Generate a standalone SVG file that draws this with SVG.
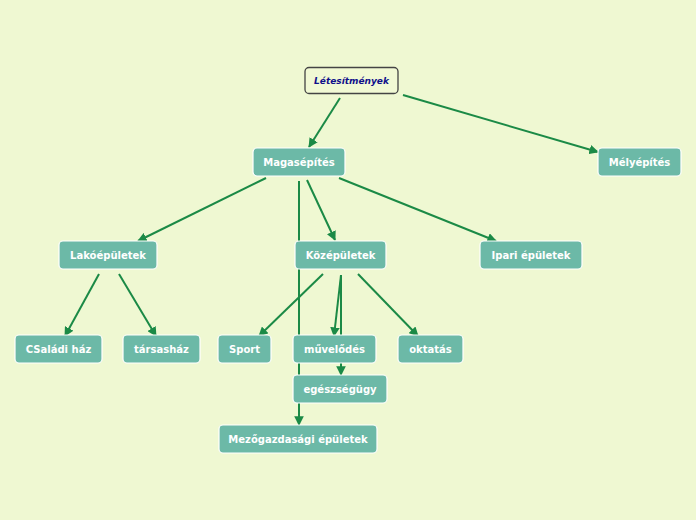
<svg xmlns="http://www.w3.org/2000/svg" width="696" height="520" viewBox="0 0 696 520">
<defs>
<marker id="ah" viewBox="0 0 10 10" refX="9" refY="5" markerWidth="4.8" markerHeight="4.8" orient="auto" markerUnits="strokeWidth">
<path d="M0,0 L10,5 L0,10 z" fill="#1b8a46"/>
</marker>
<style>
.n rect{fill:#6cb9a7;stroke:#ffffff;stroke-width:1.2}
.n text{fill:#ffffff;font-family:"DejaVu Sans",Verdana,sans-serif;font-size:10px;font-weight:bold;text-anchor:middle}
.c line{stroke:#1b8a46;stroke-width:2;marker-end:url(#ah)}
</style>
</defs>
<rect x="0" y="0" width="696" height="520" fill="#eff8d2"/>
<g class="c" id="connectors">
<line x1="340" y1="98" x2="309" y2="147"/>
<line x1="403" y1="95" x2="598" y2="152"/>
<line x1="266" y1="178" x2="138" y2="241"/>
<line x1="307" y1="180" x2="335" y2="240"/>
<line x1="339" y1="178" x2="496" y2="241"/>
<line x1="299" y1="181" x2="299" y2="425"/>
<line x1="99" y1="274" x2="65" y2="336"/>
<line x1="119" y1="274" x2="156" y2="336"/>
<line x1="323" y1="274" x2="259" y2="336"/>
<line x1="341" y1="275" x2="334" y2="336"/>
<line x1="341" y1="275" x2="341" y2="375"/>
<line x1="358" y1="274" x2="418" y2="336"/>
</g>
<g id="letesitmenyek">
<rect x="305" y="67.5" width="93" height="26" rx="4" fill="#f1f9d4" stroke="#444444" stroke-width="1.3"/>
<text x="351.5" y="84" fill="#10108a" font-family="'DejaVu Sans',Verdana,sans-serif" font-size="9" font-weight="bold" font-style="italic" text-anchor="middle">Létesítmények</text>
</g>
<g class="n" id="magasepites"><rect x="253" y="148" width="92" height="28" rx="4"/><text x="299" y="166">Magasépítés</text></g>
<g class="n" id="melyepites"><rect x="598" y="148" width="83" height="28" rx="4"/><text x="639.5" y="166">Mélyépítés</text></g>
<g class="n" id="lakoepuletek"><rect x="59" y="241" width="98" height="28" rx="4"/><text x="108" y="259">Lakóépületek</text></g>
<g class="n" id="kozepuletek"><rect x="295" y="241" width="91" height="28" rx="4"/><text x="340.5" y="259">Középületek</text></g>
<g class="n" id="ipari"><rect x="480" y="241" width="102" height="28" rx="4"/><text x="531" y="259">Ipari épületek</text></g>
<g class="n" id="csaladi"><rect x="15" y="335" width="87" height="28" rx="4"/><text x="58.5" y="353">CSaládi ház</text></g>
<g class="n" id="tarsashaz"><rect x="123" y="335" width="77" height="28" rx="4"/><text x="161.5" y="353">társasház</text></g>
<g class="n" id="sport"><rect x="218" y="335" width="53" height="28" rx="4"/><text x="244.5" y="353">Sport</text></g>
<g class="n" id="muvelodes"><rect x="293" y="335" width="83" height="28" rx="4"/><text x="334.5" y="353">művelődés</text></g>
<g class="n" id="oktatas"><rect x="398" y="335" width="65" height="28" rx="4"/><text x="430.5" y="353">oktatás</text></g>
<g class="n" id="egeszsegugy"><rect x="293" y="375" width="94" height="28" rx="4"/><text x="340" y="393">egészségügy</text></g>
<g class="n" id="mezogazdasagi"><rect x="219" y="425" width="158" height="28" rx="4"/><text x="298" y="443">Mezőgazdasági épületek</text></g>
</svg>
